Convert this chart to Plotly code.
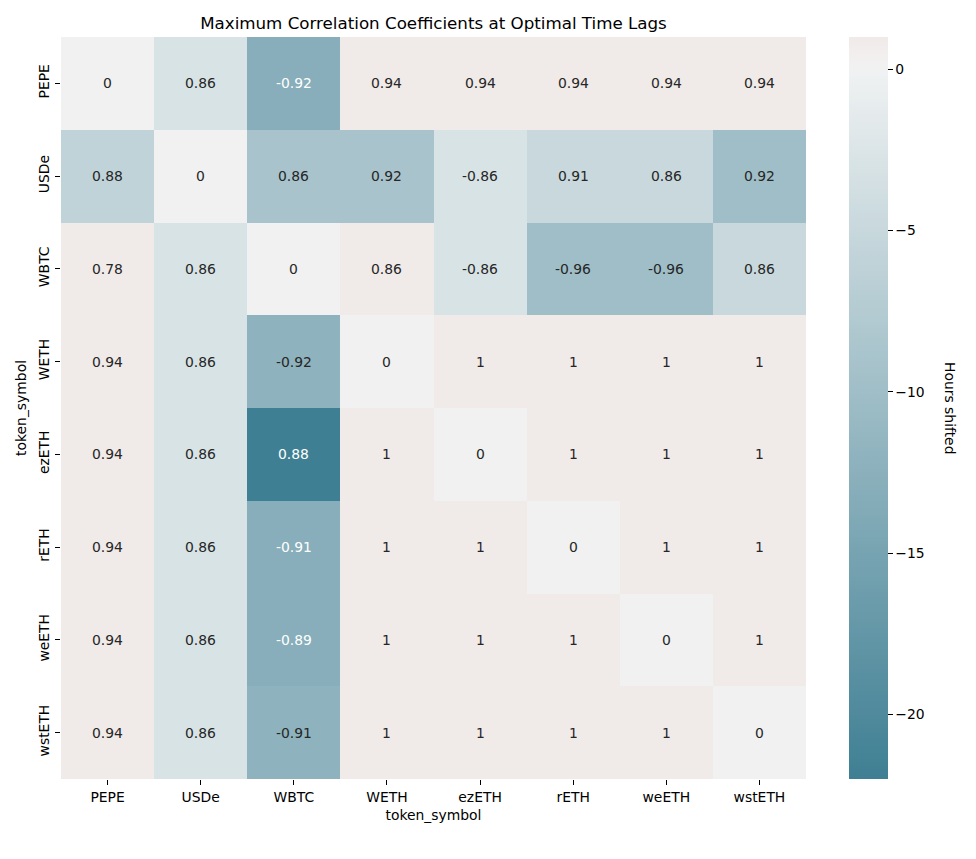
import math
import numpy as np
import plotly.graph_objects as go

# ---------------- data ----------------
tokens = ["PEPE", "USDe", "WBTC", "WETH", "ezETH", "rETH", "weETH", "wstETH"]

# hours shifted (colour)
lag_PEPE = [0, -3, -13, 1, 1, 1, 1, 1]
lag_USDe = [-6, 0, -9, -9, -3, -5, -5, -10]
lag_WBTC = [1, -3, 0, 1, -3, -10, -10, -5]
lag_WETH = [1, -3, -12, 0, 1, 1, 1, 1]
lag_ezETH = [1, -3, -22, 1, 0, 1, 1, 1]
lag_rETH = [1, -3, -13, 1, 1, 0, 1, 1]
lag_weETH = [1, -3, -13, 1, 1, 1, 0, 1]
lag_wstETH = [1, -3, -12, 1, 1, 1, 1, 0]

# max correlation coefficients (annotation)
corr_PEPE = [0, 0.86, -0.92, 0.94, 0.94, 0.94, 0.94, 0.94]
corr_USDe = [0.88, 0, 0.86, 0.92, -0.86, 0.91, 0.86, 0.92]
corr_WBTC = [0.78, 0.86, 0, 0.86, -0.86, -0.96, -0.96, 0.86]
corr_WETH = [0.94, 0.86, -0.92, 0, 1, 1, 1, 1]
corr_ezETH = [0.94, 0.86, 0.88, 1, 0, 1, 1, 1]
corr_rETH = [0.94, 0.86, -0.91, 1, 1, 0, 1, 1]
corr_weETH = [0.94, 0.86, -0.89, 1, 1, 1, 0, 1]
corr_wstETH = [0.94, 0.86, -0.91, 1, 1, 1, 1, 0]

cbar_ticks = [0, -5, -10, -15, -20]

lags = np.array([lag_PEPE, lag_USDe, lag_WBTC, lag_WETH, lag_ezETH,
                 lag_rETH, lag_weETH, lag_wstETH], dtype=float)
corrs = np.array([corr_PEPE, corr_USDe, corr_WBTC, corr_WETH, corr_ezETH,
                  corr_rETH, corr_weETH, corr_wstETH], dtype=float)

# ---------------- husl (seaborn diverging_palette 220, 20) ----------------
M = [[3.2406, -1.5372, -0.4986], [-0.9689, 1.8758, 0.0415], [0.0557, -0.2040, 1.0570]]
M_INV = [[0.4124, 0.3576, 0.1805], [0.2126, 0.7152, 0.0722], [0.0193, 0.1192, 0.9505]]
refX, refY, refZ = 0.95047, 1.0, 1.08883
refU, refV = 0.19784, 0.46834
lab_e, lab_k = 0.008856, 903.3


def max_chroma(L, H):
    hrad = math.radians(H)
    sinH, cosH = math.sin(hrad), math.cos(hrad)
    sub1 = (L + 16) ** 3 / 1560896.0
    sub2 = sub1 if sub1 > lab_e else L / lab_k
    result = float("inf")
    for row in M:
        m1, m2, m3 = row
        top = (0.99915 * m1 + 1.05122 * m2 + 1.14460 * m3) * sub2
        rbottom = 0.86330 * m3 - 0.17266 * m2
        lbottom = 0.12949 * m3 - 0.38848 * m1
        bottom = (rbottom * sinH + lbottom * cosH) * sub2
        for t in (0.0, 1.0):
            C = L * (top - 1.05122 * t) / (bottom + 0.17266 * sinH * t)
            if 0.0 < C < result:
                result = C
    return result


def f_inv(t):
    return t ** 3 if t ** 3 > lab_e else (116 * t - 16) / lab_k


def f_fwd(t):
    return t ** (1.0 / 3.0) * 116 - 16 if t > lab_e else lab_k * t


def from_linear(c):
    return 12.92 * c if c <= 0.0031308 else 1.055 * c ** (1 / 2.4) - 0.055


def to_linear(c):
    a = 0.055
    return ((c + a) / (1 + a)) ** 2.4 if c > 0.04045 else c / 12.92


def husl_to_rgb(h, s, l):
    if l > 99.9999999:
        L, C, H = 100.0, 0.0, h
    elif l < 1e-8:
        L, C, H = 0.0, 0.0, h
    else:
        L, C, H = l, max_chroma(l, h) / 100.0 * s, h
    hr = math.radians(H)
    U, V = math.cos(hr) * C, math.sin(hr) * C
    if L == 0:
        return (0.0, 0.0, 0.0)
    varY = f_inv((L + 16) / 116.0)
    varU = U / (13 * L) + refU
    varV = V / (13 * L) + refV
    Y = varY * refY
    X = 0 - (9 * Y * varU) / ((varU - 4.0) * varV - varU * varV)
    Z = (9 * Y - 15 * varV * Y - varV * X) / (3 * varV)
    rgb = [from_linear(r[0] * X + r[1] * Y + r[2] * Z) for r in M]
    return tuple(min(1.0, max(0.0, c)) for c in rgb)


def rgb_to_husl(r, g, b):
    rgbl = [to_linear(c) for c in (r, g, b)]
    X, Y, Z = [row[0] * rgbl[0] + row[1] * rgbl[1] + row[2] * rgbl[2] for row in M_INV]
    if X == 0 and Y == 0 and Z == 0:
        return (0, 0, 0)
    varU = (4 * X) / (X + 15 * Y + 3 * Z)
    varV = (9 * Y) / (X + 15 * Y + 3 * Z)
    L = f_fwd(Y / refY)
    if L == 0:
        return (0, 0, 0)
    U = 13 * L * (varU - refU)
    V = 13 * L * (varV - refV)
    C = math.sqrt(U ** 2 + V ** 2)
    H = math.degrees(math.atan2(V, U)) % 360
    if L > 99.9999999:
        return (H, 0.0, 100.0)
    S = C / max_chroma(L, H) * 100.0
    return (H, S, L)


def light_pal(hsl, n, reverse):
    rgb = husl_to_rgb(*hsl)
    h, s, l = rgb_to_husl(*rgb)
    gray = husl_to_rgb(h, 0.15 * s, 95)
    a, b = (rgb, gray) if reverse else (gray, rgb)
    return [tuple(a[k] + (b[k] - a[k]) * i / (n - 1) for k in range(3)) for i in range(n)]


neg = light_pal((220, 75, 50), 128, True)
pos = light_pal((20, 75, 50), 128, False)
nodes = np.array(neg + [(0.95, 0.95, 0.95)] + pos)
node_pos = np.linspace(0, 1, len(nodes))


def cmap(q):
    return [float(np.interp(q, node_pos, nodes[:, k])) for k in range(3)]


vmin, vmax, center = float(lags.min()), float(lags.max()), 0.0
vrange = max(vmax - center, center - vmin)
qlo = 0.5 - 0.5 * (center - vmin) / vrange
qhi = 0.5 + 0.5 * (vmax - center) / vrange


def color_of(v):
    p = (v - vmin) / (vmax - vmin)
    return cmap(qlo + p * (qhi - qlo))


def to_css(c):
    return "rgb(%d,%d,%d)" % tuple(int(round(x * 255)) for x in c)


colorscale = []
for p in np.linspace(0, 1, 101):
    colorscale.append([float(p), to_css(cmap(qlo + p * (qhi - qlo)))])


def lum(c):
    lin = [to_linear(x) for x in c]
    return 0.2126 * lin[0] + 0.7152 * lin[1] + 0.0722 * lin[2]


# page body has an 8px margin; the figure is sized/offset to compensate
W, H = 968, 851
ML, MT, MR, MB = 53, 29, 170, 80
PW = W - ML - MR

FONT = "DejaVu Sans"
fig = go.Figure()
fig.add_trace(go.Heatmap(
    z=lags, x=tokens, y=tokens, zmin=vmin, zmax=vmax,
    colorscale=colorscale, hoverinfo="skip",
    colorbar=dict(
        x=(849 - 61) / PW, xanchor="left", y=0.5, yanchor="middle", len=1.0,
        xpad=0, ypad=0,
        thickness=39, outlinewidth=0, ticks="outside", ticklen=5, tickwidth=1,
        tickcolor="black", tickvals=cbar_ticks,
        ticktext=[("\u2212%d" % -t) if t < 0 else str(t) for t in cbar_ticks],
        tickfont=dict(family=FONT, size=13.9, color="black"),
    ),
))

for i, rname in enumerate(tokens):
    for j, cname in enumerate(tokens):
        c = color_of(lags[i, j])
        tcol = "#262626" if lum(c) > 0.408 else "white"
        fig.add_annotation(x=cname, y=rname, xref="x", yref="y",
                           text=format(corrs[i, j], ".2g"), showarrow=False,
                           font=dict(family=FONT, size=13.9, color=tcol))

fig.add_annotation(text="Hours shifted", xref="paper", yref="paper",
                   x=(950 - 61) / PW, y=0.5, showarrow=False, textangle=90,
                   xanchor="center", yanchor="middle",
                   font=dict(family=FONT, size=13.9, color="black"))

fig.update_layout(
    width=W, height=H,
    margin=dict(l=ML, r=MR, t=MT, b=MB),
    paper_bgcolor="white", plot_bgcolor="white",
    font=dict(family=FONT, size=13.9, color="black"),
    title=dict(text="Maximum Correlation Coefficients at Optimal Time Lags",
               x=(ML + ML + PW) / 2 / W, xanchor="center", xref="container",
               y=1 - 15 / H, yanchor="middle", yref="container",
               font=dict(family=FONT, size=16.7, color="black")),
    xaxis=dict(title=dict(text="token_symbol", standoff=6,
                          font=dict(family=FONT, size=13.9)),
               ticks="outside", ticklen=5, tickcolor="black", showgrid=False,
               automargin=False,
               zeroline=False, showline=False, tickfont=dict(family=FONT, size=13.9)),
    yaxis=dict(title=dict(text="token_symbol", standoff=6,
                          font=dict(family=FONT, size=13.9)),
               autorange="reversed", tickangle=-90, automargin=False,
               ticks="outside", ticklen=5, tickcolor="black", showgrid=False,
               zeroline=False, showline=False, tickfont=dict(family=FONT, size=13.9)),
)

fig.write_html("out.html")
